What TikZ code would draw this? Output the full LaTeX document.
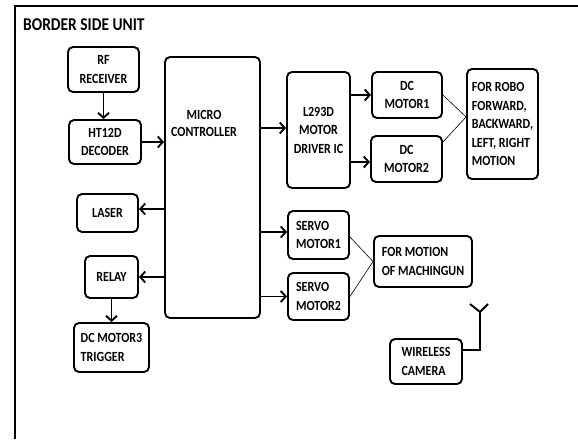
\documentclass[tikz,border=0pt]{standalone}
\usepackage{fontspec}
\setmainfont{Carlito}[FakeStretch=0.857]
\usetikzlibrary{arrows.meta}
\tikzset{
  blk/.style={draw, line width=1.9pt, rounded corners=5pt, inner sep=2pt,
    font=\fontsize{14}{18.5}\selectfont\bfseries},
  blkc/.style={blk, align=center},
  blkl/.style={blk, align=left},
  lbl/.style={inner sep=0pt, font=\fontsize{14}{17}\selectfont\bfseries, align=center},
  conn/.style={line width=1.9pt, -{Straight Barb[length=5pt,width=11pt]}},
  thin/.style={line width=0.6pt},
  frame/.style={line width=1.3pt},
}
\begin{document}
\begin{tikzpicture}[x=1pt,y=-1pt]
\useasboundingbox (0,0) rectangle (578,439);
% frame
\coordinate (fbl) at (15,439);
\coordinate (ftl) at (15,6);
\coordinate (ftr) at (578,6);
\draw[frame] (fbl) -- (ftl) -- (ftr);
\node[anchor=west, inner sep=0pt, font=\fontsize{18}{20}\selectfont\bfseries] (title) at (23,25) {BORDER SIDE UNIT};

% blocks
\node[blkc, minimum width=71pt, minimum height=45pt] (rf) at (103.5,69.5) {RF\\RECEIVER};
\node[blkc, minimum width=72pt, minimum height=44pt] (ht) at (105,142) {HT12D\\DECODER};
\node[blk, minimum width=95pt, minimum height=261pt] (mc) at (212.5,187.5) {};
\node[lbl] (mctext) at (204,123.5) {MICRO\\CONTROLLER};
\node[blkc, minimum width=63pt, minimum height=116pt] (l293) at (318.5,130) {L293D\\MOTOR\\DRIVER IC};
\node[blkc, minimum width=70pt, minimum height=46pt] (dc1) at (407,95) {DC\\MOTOR1};
\node[blkc, minimum width=71pt, minimum height=46pt] (dc2) at (406.5,159) {DC\\MOTOR2};
\node[blkl, minimum width=71pt, minimum height=110pt] (robo) at (502.5,124) {FOR ROBO\\FORWARD,\\BACKWARD,\\LEFT, RIGHT\\MOTION};
\node[blkc, minimum width=61pt, minimum height=38pt] (laser) at (107.5,213) {LASER};
\node[blkc, minimum width=53pt, minimum height=42pt] (relay) at (111.5,277) {RELAY};
\node[blkl, minimum width=75pt, minimum height=49pt] (dc3) at (111.5,347.5) {DC MOTOR3\\TRIGGER};
\node[blkl, minimum width=61pt, minimum height=48pt] (sm1) at (318.5,235) {SERVO\\MOTOR1};
\node[blkl, minimum width=61pt, minimum height=47pt] (sm2) at (318.5,296.5) {SERVO\\MOTOR2};
\node[blkl, minimum width=98pt, minimum height=51pt] (mot) at (423,261.5) {FOR MOTION\\OF MACHINGUN};
\node[blkl, minimum width=72pt, minimum height=45pt] (cam) at (426,361.5) {WIRELESS\\CAMERA};

% helper coordinates
\coordinate (pL) at ([yshift=2pt]l293.west);
\coordinate (pD2) at ([yshift=-3pt]dc2.west);
\coordinate (pRobo) at ([yshift=7pt]robo.west);
\coordinate (pD2e) at ([yshift=17pt]dc2.east);
\coordinate (pLas) at ([yshift=4pt]laser.east);
\coordinate (pS1) at ([yshift=3pt]sm1.west);
\coordinate (pS1e) at ([yshift=-2pt]sm1.east);
\coordinate (pCam) at ([yshift=11.5pt]cam.east);
\coordinate (antb) at (480,350);
\coordinate (ant) at (480,312);
\coordinate (antl) at (470,304);
\coordinate (antr) at (488,304);

% connectors
\draw[conn] (rf.south) -- (rf.south |- ht.north);
\draw[conn] (ht.east) -- (ht.east -| mc.west);
\draw[conn] (pL -| mc.east) -- (pL);
\draw[conn] (dc1.west -| l293.east) -- (dc1.west);
\draw[conn] (pD2 -| l293.east) -- (pD2);
\draw[conn] (pLas -| mc.west) -- (pLas);
\draw[conn] (relay.east -| mc.west) -- (relay.east);
\draw[conn] (relay.south) -- (relay.south |- dc3.north);
\draw[conn] (pS1 -| mc.east) -- (pS1);
\draw[conn] (sm2.west -| mc.east) -- (sm2.west);
\draw[thin] (dc1.east) -- (pRobo);
\draw[thin] (pD2e) -- (pRobo);
\draw[thin] (pS1e) -- (mot.west);
\draw[thin] (sm2.east) -- (mot.west);
\draw[line width=1.9pt] (pCam) -- (antb) -- (ant);
\draw[line width=1.9pt] (antl) -- (ant) -- (antr);
\end{tikzpicture}
\end{document}
